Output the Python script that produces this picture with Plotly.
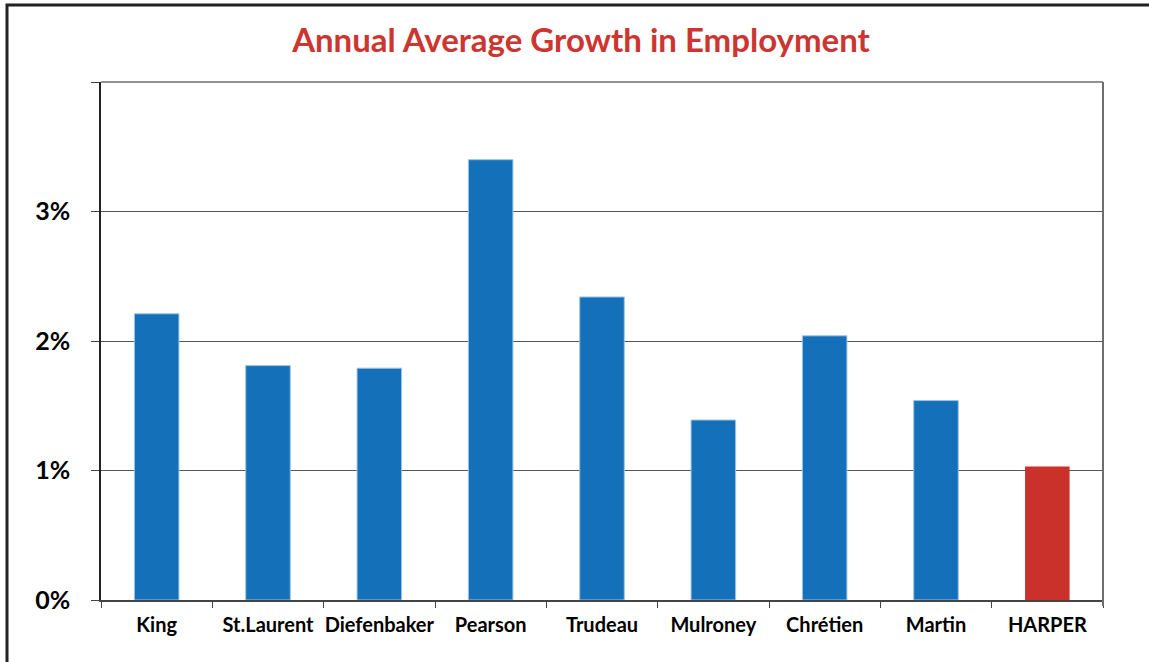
import plotly.graph_objects as go

# Prime ministers and their annual average employment growth (%)
leaders = ["King", "St.Laurent", "Diefenbaker", "Pearson", "Trudeau",
           "Mulroney", "Chrétien", "Martin", "HARPER"]
growth = [2.21, 1.81, 1.79, 3.40, 2.34, 1.39, 2.04, 1.54, 1.03]
highlight = "HARPER"

y_ticks = [0, 1, 2, 3, 4]
y_tick_labels = ["0%", "1%", "2%", "3%", ""]

BLUE = "#1470B8"
RED = "#C9312A"
colors = [RED if name == highlight else BLUE for name in leaders]
edge = ["rgba(0,0,0,0)" if name == highlight else "#9cc3e6" for name in leaders]

W, H = 1149, 662
L, R, T, B = 101, 46, 82, 62
pw, ph = W - L - R, H - T - B

def px_x(p):
    return (p - L) / pw

def px_y(p):
    return (H - B - p) / ph

fig = go.Figure(
    go.Bar(
        x=leaders,
        y=growth,
        width=0.4,
        marker=dict(color=colors, line=dict(color=edge, width=1)),
        hoverinfo="x+y",
    )
)

fig.update_layout(
    width=W,
    height=H,
    margin=dict(l=L, r=R, t=T, b=B, autoexpand=False),
    paper_bgcolor="white",
    plot_bgcolor="white",
    showlegend=False,
    font=dict(family="Lato, 'Open Sans', sans-serif", color="black"),
    title=dict(
        text="<b>Annual Average Growth in Employment</b>",
        x=px_x(581), xref="paper", xanchor="center",
        y=1 - 40 / H, yref="container", yanchor="middle",
        font=dict(size=33, color="#CC3530", family="Lato, 'Open Sans', sans-serif"),
    ),
    shapes=[
        # outer frame around the whole graphic
        dict(type="rect", xref="paper", yref="paper",
             x0=px_x(7), x1=px_x(W + 20), y0=px_y(H + 20), y1=px_y(5),
             line=dict(color="#222222", width=3), layer="above"),
    ],
)

fig.update_xaxes(
    type="category",
    automargin=False,
    tickangle=0,
    showline=True, linecolor="#444444", linewidth=1.5,
    mirror=False,
    ticks="outside", tickson="boundaries", ticklen=6,
    tickcolor="#444444", tickwidth=1,
    tickfont=dict(size=20, color="black"),
    tickprefix="<b>", ticksuffix="</b>",
    ticklabelstandoff=6,
    showgrid=False,
)
fig.update_yaxes(
    automargin=False,
    range=[0, 4],
    tickvals=y_ticks, ticktext=[f"<b>{t}</b>" for t in y_tick_labels],
    showgrid=True, gridcolor="#555555", gridwidth=1,
    showline=True, linecolor="#222222", linewidth=1.5,
    ticks="outside", ticklen=8, tickcolor="#444444", tickwidth=1,
    tickfont=dict(size=25, color="black"),
    ticklabelstandoff=16,
    zeroline=False,
)

# right and top plot borders
fig.add_shape(type="line", xref="paper", yref="paper", x0=1, x1=1, y0=0, y1=1,
              line=dict(color="#6e6e6e", width=2), layer="above")
fig.add_shape(type="line", xref="paper", yref="paper", x0=0, x1=1, y0=1, y1=1,
              line=dict(color="#6e6e6e", width=1.5), layer="above")
# bottom tick at the right end of the category axis
fig.add_shape(type="line", xref="paper", yref="paper", x0=1, x1=1, y0=0, y1=px_y(H - B + 6),
              line=dict(color="#6e6e6e", width=2), layer="above")

fig.write_html("out.html")
